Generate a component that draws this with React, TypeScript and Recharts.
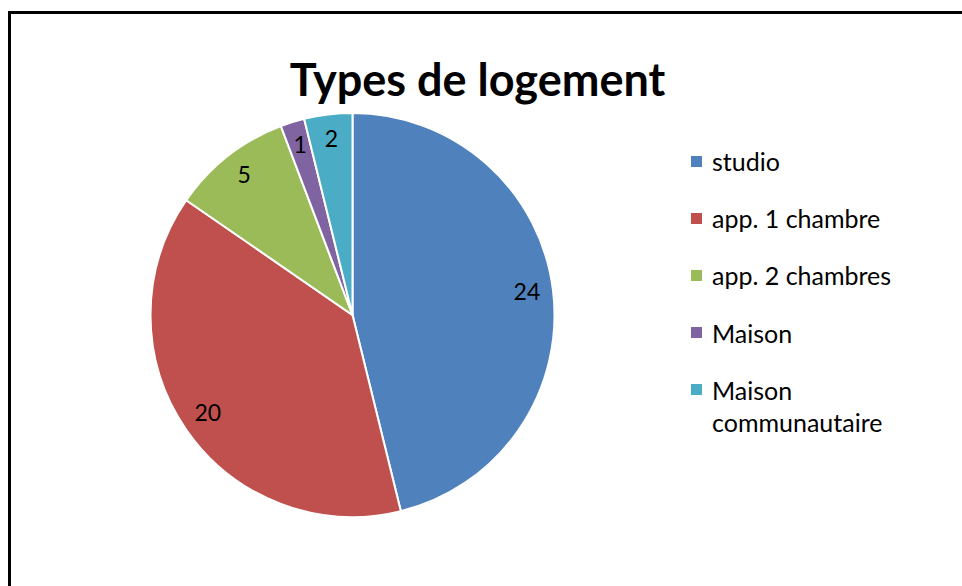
import { PieChart, Pie, Cell, Legend } from "recharts";

const categories = ["studio", "app. 1 chambre", "app. 2 chambres", "Maison", "Maison communautaire"];
const counts = [24, 20, 5, 1, 2];
const colors = ["#4F81BD", "#C0504D", "#9BBB59", "#8064A2", "#4BACC6"];

const data = categories.map((name, i) => ({ name, value: counts[i] }));

const FONT = "Lato, 'Open Sans', sans-serif";
const RADIAN = Math.PI / 180;

const renderLabel = (props: any) => {
  const { cx, cy, midAngle, outerRadius, value } = props;
  const r = outerRadius * 0.87;
  const x = cx + r * Math.cos(-midAngle * RADIAN);
  const y = cy + r * Math.sin(-midAngle * RADIAN) - 3;
  return (
    <text
      x={x}
      y={y}
      textAnchor="middle"
      dominantBaseline="central"
      fill="#000"
      fontSize={23}
      fontFamily={FONT}
    >
      {value}
    </text>
  );
};

const renderLegend = () => (
  <div style={{ fontFamily: FONT, fontSize: 25, color: "#000" }}>
    {data.map((d, i) => (
      <div key={d.name} style={{ display: "flex", alignItems: "flex-start", marginBottom: 25.2 }}>
        <div
          style={{
            width: 11,
            height: 11,
            background: colors[i],
            marginTop: 10.5,
            marginRight: 10,
            flexShrink: 0,
          }}
        />
        <div style={{ lineHeight: "32px", width: 200 }}>{d.name}</div>
      </div>
    ))}
  </div>
);

export default function App() {
  return (
    <div
      style={{
        position: "absolute",
        left: 8,
        top: 11,
        width: 954,
        height: 575,
        overflow: "hidden",
      }}
    >
      <div
        style={{
          position: "relative",
          width: 1000,
          height: 640,
          border: "3px solid #000",
          background: "#fff",
        }}
      >
        <div
          style={{
            position: "absolute",
            left: 0,
            width: 933,
            top: 38,
            textAlign: "center",
            fontFamily: FONT,
            fontWeight: 700,
            fontSize: 45,
            lineHeight: "54px",
            color: "#000",
          }}
        >
          Types de logement
        </div>
        <PieChart width={951} height={572} margin={{ top: 0, right: 0, bottom: 0, left: 0 }}>
          <Pie
            data={data}
            dataKey="value"
            nameKey="name"
            cx={341.5}
            cy={301}
            outerRadius={202}
            startAngle={90}
            endAngle={-270}
            stroke="#fff"
            strokeWidth={2}
            label={renderLabel}
            labelLine={false}
            isAnimationActive={false}
          >
            {data.map((d, i) => (
              <Cell key={d.name} fill={colors[i]} />
            ))}
          </Pie>
          <Legend
            layout="vertical"
            content={renderLegend}
            wrapperStyle={{ position: "absolute", left: 680, top: 131, width: 230 }}
          />
        </PieChart>
      </div>
    </div>
  );
}
